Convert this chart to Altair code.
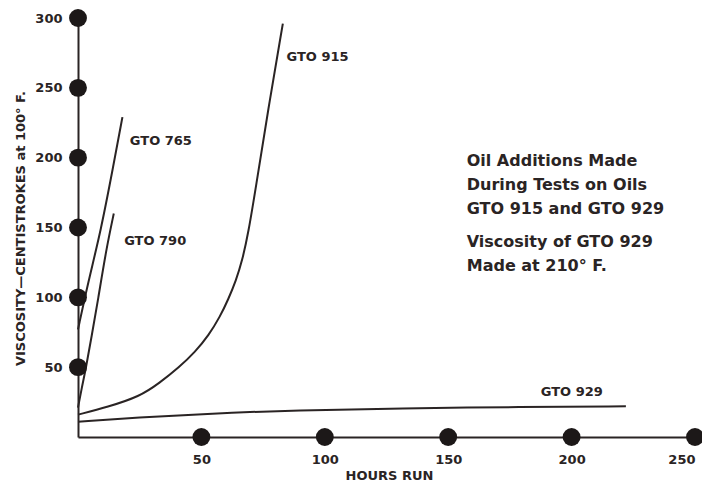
import altair as alt
import pandas as pd

# ---- data ----
x_ticks = [50, 100, 150, 200, 250]
y_ticks = [50, 100, 150, 200, 250, 300]

gto765_hours = [0, 4, 9.3, 14.2, 18]
gto765_visc = [77, 110, 148, 193, 229]
gto790_hours = [0, 1.5, 3.3, 5.5, 8.1, 11.4, 14.5]
gto790_visc = [21, 35, 50, 72, 98, 134, 160]
gto915_hours = [0, 12, 25, 33, 41, 47.5, 53, 57.5, 61, 64, 66.5, 69, 72, 77, 83]
gto915_visc = [16, 21.5, 29, 38.7, 50, 61, 73, 86, 99, 112, 126, 146, 178, 234, 296]
gto929_hours = [0, 25, 50, 90, 130, 180, 222]
gto929_visc = [11, 14, 16.5, 19.3, 20.5, 21.5, 22]

label_names = ["GTO 765", "GTO 790", "GTO 915", "GTO 929"]
label_hours = [21, 18.7, 84.5, 187.5]
label_visc = [212, 140, 272, 32]

note_block_1 = ["Oil Additions Made", "During Tests on Oils", "GTO 915 and GTO 929"]
note_block_2 = ["Viscosity of GTO 929", "Made at 210\u00b0 F."]
note_hours = [157.5, 157.5]
note_visc = [194, 136]

INK = "#2a2424"
DOT = "#1c1818"
FONT = "DejaVu Sans"

# ---- tables ----
rows = []
for name, hs, vs in [("GTO 765", gto765_hours, gto765_visc),
                     ("GTO 790", gto790_hours, gto790_visc),
                     ("GTO 915", gto915_hours, gto915_visc),
                     ("GTO 929", gto929_hours, gto929_visc)]:
    for i, (h, v) in enumerate(zip(hs, vs)):
        rows.append({"series": name, "hours": h, "visc": v, "i": i})
curves = pd.DataFrame(rows)

dots = pd.DataFrame(
    [{"hours": 0, "visc": v} for v in y_ticks] +
    [{"hours": h, "visc": 0} for h in x_ticks]
)
labels = pd.DataFrame({"name": label_names, "hours": label_hours, "visc": label_visc})
notes = pd.DataFrame({"text": ["\n".join(note_block_1), "\n".join(note_block_2)],
                      "hours": note_hours, "visc": note_visc})

x_enc = alt.X("hours:Q",
              scale=alt.Scale(domain=[0, 250], nice=False, zero=True),
              axis=alt.Axis(values=x_ticks, title="HOURS RUN", grid=False, ticks=False,
                            labelPadding=16, labelFontSize=13, labelFontWeight="bold",
                            labelFont=FONT, labelColor=INK,
                            domainColor=INK, domainWidth=2,
                            titleFont=FONT, titleFontSize=13, titleFontWeight="bold",
                            titleColor=INK, titleX=311, titleY=38,
                            titleBaseline="middle", titleAlign="center"))
y_enc = alt.Y("visc:Q",
              scale=alt.Scale(domain=[0, 300], nice=False, zero=True),
              axis=alt.Axis(values=y_ticks, title="VISCOSITY\u2014CENTISTROKES at 100\u00b0 F.",
                            grid=False, ticks=False,
                            labelPadding=16, labelFontSize=13, labelFontWeight="bold",
                            labelFont=FONT, labelColor=INK,
                            domainColor=INK, domainWidth=2,
                            titleFont=FONT, titleFontSize=13, titleFontWeight="bold",
                            titleColor=INK, titleX=-58, titleY=210, titleAngle=270,
                            titleBaseline="middle", titleAlign="center"))

lines = alt.Chart(curves).mark_line(color=INK, strokeWidth=2, interpolate="basis").encode(
    x=x_enc, y=y_enc, detail="series:N", order="i:Q")

points = alt.Chart(dots).mark_point(filled=True, size=320, color=DOT, opacity=1).encode(
    x=x_enc, y=y_enc)

label_text = alt.Chart(labels).mark_text(align="left", baseline="middle", font=FONT,
                                         fontSize=13, fontWeight="bold", color=INK).encode(
    x=x_enc, y=y_enc, text="name:N")

note_text = alt.Chart(notes).mark_text(align="left", baseline="alphabetic", font=FONT,
                                       fontSize=16, fontWeight="bold", color=INK,
                                       lineBreak="\n", lineHeight=24).encode(
    x=x_enc, y=y_enc, text="text:N")

chart = alt.layer(lines, points, label_text, note_text).properties(
    width=617, height=419,
    autosize=alt.AutoSizeParams(type="none"),
    padding={"left": 70, "top": 10, "right": 7, "bottom": 46},
    background="white",
).configure_view(stroke=None)

chart.save("out.html", embed_options={"renderer": "svg", "actions": False})
